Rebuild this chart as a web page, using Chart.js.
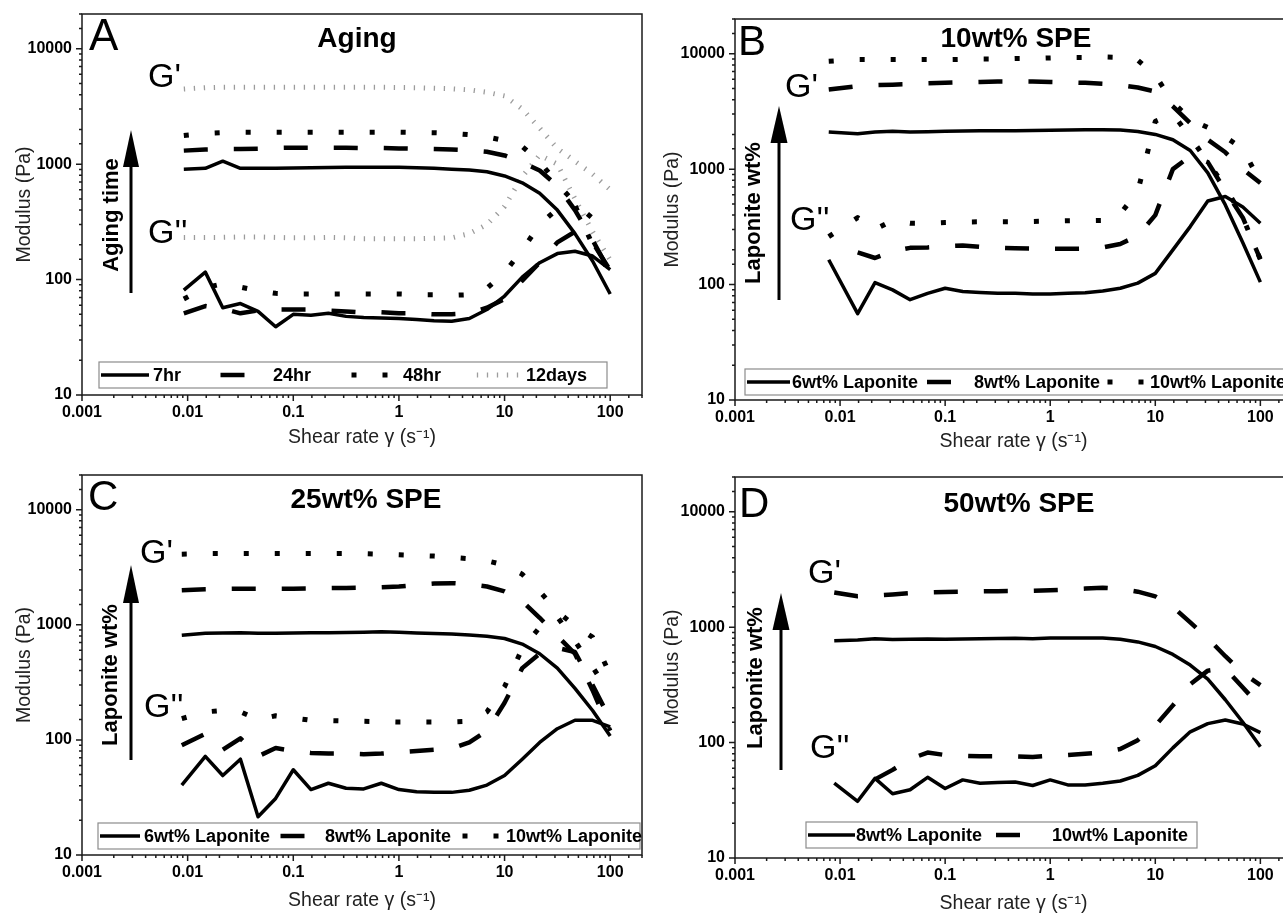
<!DOCTYPE html>
<html>
<head>
<meta charset="utf-8">
<script src="https://cdn.jsdelivr.net/npm/chart.js@4.4.1/dist/chart.umd.min.js"></script>
<style>
  html, body { margin: 0; padding: 0; background: #fff; overflow: hidden; width: 1283px; height: 915px; position: relative; }
  canvas { position: absolute; }
</style>
</head>
<body>
<canvas id="chartA" width="660" height="455" style="left:0;top:0"></canvas>
<canvas id="chartB" width="670" height="455" style="left:640px;top:0"></canvas>
<canvas id="chartC" width="660" height="460" style="left:0;top:455px"></canvas>
<canvas id="chartD" width="670" height="460" style="left:640px;top:455px"></canvas>
<script>
// tick labels (log axes)
const xTickLabels = ['0.001', '0.01', '0.1', '1', '10', '100'];
const yTickLabels = ['10', '100', '1000', '10000'];

// legend names
const agingNames = ['7hr', '24hr', '48hr', '12days'];
const lapNames = ['6wt% Laponite', '8wt% Laponite', '10wt% Laponite'];
const lapNamesD = ['8wt% Laponite', '10wt% Laponite'];

// ---- A: aging ----
const shearA = [0.0092, 0.0147, 0.0215, 0.0316, 0.0464, 0.0681, 0.1, 0.147, 0.215, 0.316, 0.464, 0.681, 1, 1.47, 2.15, 3.16, 4.64, 6.81, 10, 14.7, 21.5, 31.6, 46.4, 68.1, 100];
const hr7Storage = [905, 920, 1060, 920, 920, 920, 925, 930, 935, 940, 940, 940, 940, 930, 920, 905, 890, 860, 790, 690, 560, 400, 250, 145, 75];
const hr7Loss = [81, 116, 57, 62, 53, 39, 50, 49, 51, 48, 47, 46.5, 46, 45, 44, 43.5, 46, 55, 72, 105, 140, 168, 176, 160, 122];
const hr24Storage = [1310, 1340, 1350, 1350, 1360, 1380, 1390, 1390, 1390, 1390, 1380, 1380, 1370, 1360, 1350, 1340, 1320, 1280, 1190, 1040, 880, 650, 400, 220, 115];
const hr24Loss = [51, 59, 56, 51, 54, 55, 55, 55, 54, 53, 52, 52, 51, 51, 50, 50, 51, 57, 68, 98, 140, 210, 260, 210, 120];
const hr48Storage = [1770, 1850, 1880, 1890, 1890, 1890, 1890, 1890, 1890, 1890, 1890, 1890, 1890, 1880, 1870, 1850, 1800, 1720, 1600, 1420, 1050, 680, 460, 340, 280];
const hr48Loss = [68, 85, 92, 86, 80, 76, 75, 75, 75, 75, 75, 75, 75, 74, 74, 73, 74, 84, 115, 180, 300, 410, 440, 200, 115];
const day12Storage = [4480, 4600, 4640, 4650, 4650, 4650, 4650, 4650, 4650, 4650, 4650, 4640, 4620, 4600, 4550, 4500, 4400, 4200, 3900, 3000, 2050, 1370, 1060, 820, 600];
const day12Loss = [232, 232, 232, 234, 234, 232, 230, 230, 232, 230, 226, 226, 226, 226, 228, 230, 250, 300, 430, 780, 1200, 1000, 500, 260, 148];

// ---- B: 10wt% SPE ----
const shearB = [0.0078, 0.0147, 0.0215, 0.0316, 0.0464, 0.0681, 0.1, 0.147, 0.215, 0.316, 0.464, 0.681, 1, 1.47, 2.15, 3.16, 4.64, 6.81, 10, 14.7, 21.5, 31.6, 46.4, 68.1, 100];
const lap6StorageB = [2100, 2030, 2100, 2130, 2100, 2110, 2130, 2140, 2150, 2150, 2150, 2160, 2170, 2180, 2190, 2200, 2180, 2120, 2000, 1800, 1450, 930, 490, 230, 105];
const lap6LossB = [164, 56, 104, 90, 74, 84, 93, 87, 85.5, 84, 84, 83, 83, 84, 85, 88, 93, 103, 125, 200, 318, 530, 580, 470, 340];
const lap8StorageB = [4900, 5250, 5350, 5400, 5450, 5550, 5600, 5650, 5700, 5750, 5750, 5750, 5700, 5650, 5600, 5500, 5350, 5100, 4700, 3500, 2500, 1800, 1400, 1000, 760];
const lap8LossB = [null, 190, 170, 195, 208, 210, 215, 218, 212, 208, 206, 205, 204, 204, 205, 210, 225, 265, 400, 1000, 1300, 1150, 650, 380, 165];
const lap10StorageB = [8600, 8900, 8900, 8900, 8900, 8900, 8900, 8950, 9000, 9000, 9100, 9100, 9200, 9300, 9300, 9400, 9300, 8800, 6500, 3800, 2700, 2300, 1900, 1500, 770];
const lap10LossB = [260, 380, 300, 360, 340, 340, 345, 348, 350, 350, 350, 352, 355, 357, 358, 360, 410, 640, 2600, 3000, 1900, 1150, 700, 380, 165];

// ---- C: 25wt% SPE ----
const shearC = [0.0088, 0.0147, 0.0215, 0.0316, 0.0464, 0.0681, 0.1, 0.147, 0.215, 0.316, 0.464, 0.681, 1, 1.47, 2.15, 3.16, 4.64, 6.81, 10, 14.7, 21.5, 31.6, 46.4, 68.1, 100];
const lap6StorageC = [809, 843, 848, 852, 845, 845, 850, 852, 852, 855, 860, 870, 860, 850, 840, 830, 815, 795, 760, 680, 560, 420, 280, 180, 108];
const lap6LossC = [40.5, 72, 49, 68, 21.5, 31, 55, 37, 42, 38, 37.5, 42, 37, 35.5, 35, 35, 36.5, 40.5, 49, 68, 95, 125, 148, 148, 130];
const lap8StorageC = [1990, 2030, 2050, 2060, 2060, 2060, 2060, 2070, 2080, 2090, 2100, 2120, 2150, 2220, 2280, 2300, 2250, 2150, 1950, 1600, 1150, 800, 560, 270, 120];
const lap8LossC = [90, 113, 82, 103, 72, 85, 80, 77, 76, 76, 75, 76, 78, 80, 82, 84, 95, 120, 210, 420, 560, 630, 580, 300, 150];
const lap10StorageC = [4100, 4150, 4150, 4150, 4150, 4150, 4150, 4150, 4150, 4150, 4150, 4100, 4050, 4000, 3950, 3850, 3750, 3600, 3300, 2750, 1950, 1300, 980, 780, 370];
const lap10LossC = [153, 175, 180, 175, 150, 162, 155, 148, 147, 146, 145, 144, 143, 143, 143, 143, 145, 175, 290, 620, 950, 1170, 720, 430, 250];

// ---- D: 50wt% SPE ----
const shearD = [0.0088, 0.0147, 0.0215, 0.0316, 0.0464, 0.0681, 0.1, 0.147, 0.215, 0.316, 0.464, 0.681, 1, 1.47, 2.15, 3.16, 4.64, 6.81, 10, 14.7, 21.5, 31.6, 46.4, 68.1, 100];
const lap8StorageD = [762, 775, 795, 780, 785, 790, 785, 790, 795, 797, 800, 795, 805, 805, 805, 805, 785, 745, 680, 580, 470, 355, 235, 150, 92];
const lap8LossD = [44.5, 31, 49, 36, 39, 50, 40, 47.5, 44.5, 45, 45.5, 42.5, 47.5, 43, 43, 44.5, 46.5, 52, 63, 90, 124, 146, 157, 145, 122];
const lap10StorageD = [1995, 1850, 1880, 1920, 1970, 2000, 2020, 2030, 2040, 2050, 2060, 2070, 2090, 2120, 2160, 2200, 2150, 2030, 1850, 1500, 1100, 800, 560, 400, 315];
const lap10LossD = [null, null, 48, 58, 72, 82, 78, 77, 76, 76, 76, 75, 77, 78, 80, 82, 88, 105, 140, 210, 320, 420, 440, 300, 205];

Chart.defaults.font.family = '"Liberation Sans", Arial, sans-serif';
Chart.defaults.color = '#000';

const LINE = {
  solid:  { borderColor: '#000', borderWidth: 3.5, borderDash: [] },
  dashed: { borderColor: '#000', borderWidth: 4.5, borderDash: [24, 26] },
  dotted: { borderColor: '#000', borderWidth: 5, borderDash: [5, 26] },
  faint:  { borderColor: '#9c9c9c', borderWidth: 5, borderDash: [1.3, 8.7] }
};

function series(xs, ys, style) {
  return Object.assign({
    data: xs.map((x, i) => ({ x: x, y: ys[i] })),
    pointRadius: 0, tension: 0, fill: false,
    borderCapStyle: 'butt', borderJoinStyle: 'round'
  }, LINE[style]);
}

const fmt = v => String(+Number(v).toPrecision(3));
const isDecade = v => Math.abs(Math.log10(v) - Math.round(Math.log10(v))) < 1e-6;

function makeDecor(spec) {
  return {
    id: 'decor',
    afterDraw(chart) {
      const { ctx, chartArea: a, scales: { x, y } } = chart;
      ctx.save();
      ctx.strokeStyle = '#1a1a1a';
      ctx.lineWidth = 1.5;
      ctx.strokeRect(a.left, a.top, a.right - a.left, a.bottom - a.top);

      // tick marks, outward
      ctx.beginPath();
      x.ticks.forEach(t => {
        const p = x.getPixelForValue(t.value);
        if (p < a.left - 1 || p > a.right + 1) return;
        const len = isDecade(t.value) ? 6 : 3;
        ctx.moveTo(p, a.bottom); ctx.lineTo(p, a.bottom + len);
      });
      y.ticks.forEach(t => {
        const p = y.getPixelForValue(t.value);
        if (p < a.top - 1 || p > a.bottom + 1) return;
        const len = isDecade(t.value) ? 6 : 3;
        ctx.moveTo(a.left, p); ctx.lineTo(a.left - len, p);
      });
      ctx.stroke();

      // legend box
      const lg = spec.legend;
      ctx.fillStyle = '#fff';
      ctx.fillRect(lg.x1, lg.y1, lg.x2 - lg.x1, lg.y2 - lg.y1);
      ctx.strokeStyle = '#8c8c8c';
      ctx.lineWidth = 1.2;
      ctx.strokeRect(lg.x1, lg.y1, lg.x2 - lg.x1, lg.y2 - lg.y1);
      const cy = (lg.y1 + lg.y2) / 2;
      lg.items.forEach(it => {
        const st = LINE[it.style];
        const d = st.borderDash;
        ctx.strokeStyle = st.borderColor;
        ctx.lineWidth = st.borderWidth;
        ctx.lineCap = 'butt';
        ctx.setLineDash(d);
        if (d.length) {
          const p = d[0] + d[1], L = it.x2 - it.x1;
          const o = d[0] / 2 - L / 2 + (it.style === 'dotted' ? p / 2 : 0);
          ctx.lineDashOffset = ((o % p) + p) % p;
        } else {
          ctx.lineDashOffset = 0;
        }
        ctx.beginPath(); ctx.moveTo(it.x1, cy); ctx.lineTo(it.x2, cy); ctx.stroke();
        ctx.setLineDash([]);
        ctx.fillStyle = '#000';
        ctx.font = 'bold 18px "Liberation Sans", Arial, sans-serif';
        ctx.textAlign = 'left';
        ctx.textBaseline = 'middle';
        ctx.fillText(it.label, it.tx, cy + 1);
      });

      // text annotations
      ctx.fillStyle = '#000';
      spec.texts.forEach(t => {
        ctx.save();
        ctx.font = t.font + ' "Liberation Sans", Arial, sans-serif';
        ctx.textAlign = t.align || 'left';
        ctx.textBaseline = t.base || 'alphabetic';
        ctx.translate(t.x, t.y);
        if (t.rot) ctx.rotate(t.rot);
        ctx.fillText(t.t, 0, 0);
        ctx.restore();
      });

      // arrow
      const ar = spec.arrow;
      ctx.strokeStyle = '#000';
      ctx.lineWidth = 3;
      ctx.beginPath(); ctx.moveTo(ar.x, ar.bottom); ctx.lineTo(ar.x, ar.tip + ar.hl - 2); ctx.stroke();
      ctx.beginPath();
      ctx.moveTo(ar.x, ar.tip);
      ctx.lineTo(ar.x - ar.hw / 2, ar.tip + ar.hl);
      ctx.lineTo(ar.x + ar.hw / 2, ar.tip + ar.hl);
      ctx.closePath(); ctx.fill();
      ctx.restore();
    }
  };
}

function buildPanel(id, spec) {
  new Chart(document.getElementById(id), {
    type: 'line',
    data: { datasets: spec.datasets },
    options: {
      responsive: false,
      animation: false,
      events: [],
      layout: { padding: { left: 0, top: spec.top, right: spec.right, bottom: 0 } },
      plugins: { legend: { display: false }, tooltip: { enabled: false } },
      scales: {
        x: {
          type: 'logarithmic', min: 0.001, max: 200,
          grid: { display: false, drawTicks: false }, border: { display: false },
          ticks: {
            autoSkip: false, maxRotation: 0, minRotation: 0, padding: 8,
            font: { size: 16, weight: 'bold' },
            callback: v => xTickLabels.includes(fmt(v)) ? fmt(v) : ''
          },
          title: { display: true, text: 'Shear rate γ (s⁻¹)', font: { size: 19.5 }, color: '#222', padding: { top: 0, bottom: spec.xTitlePad } },
          afterFit: s => { s.height = spec.xAxisH; s.paddingLeft = 0; s.paddingRight = 0; }
        },
        y: {
          type: 'logarithmic', min: 10, max: 20000,
          grid: { display: false, drawTicks: false }, border: { display: false },
          ticks: {
            autoSkip: false, padding: 10,
            font: { size: 16, weight: 'bold' },
            callback: v => yTickLabels.includes(fmt(v)) ? fmt(v) : ''
          },
          title: { display: true, text: 'Modulus (Pa)', font: { size: 19.5 }, color: '#222', padding: { top: spec.yTitlePad, bottom: 0 } },
          afterFit: s => { s.width = spec.yAxisW; s.paddingTop = 0; s.paddingBottom = 0; }
        }
      }
    },
    plugins: [makeDecor(spec)]
  });
}

const ROT = -Math.PI / 2;

buildPanel('chartA', {
  top: 14, right: 18, yAxisW: 82, xAxisH: 60, xTitlePad: 6, yTitlePad: 13,
  datasets: [
    series(shearA, hr7Storage, 'solid'), series(shearA, hr7Loss, 'solid'),
    series(shearA, hr24Storage, 'dashed'), series(shearA, hr24Loss, 'dashed'),
    series(shearA, hr48Storage, 'dotted'), series(shearA, hr48Loss, 'dotted'),
    series(shearA, day12Storage, 'faint'), series(shearA, day12Loss, 'faint')
  ],
  legend: { x1: 99, y1: 362, x2: 607, y2: 388, items: [
    { label: agingNames[0], style: 'solid', x1: 101, x2: 149, tx: 153 },
    { label: agingNames[1], style: 'dashed', x1: 209, x2: 256, tx: 273 },
    { label: agingNames[2], style: 'dotted', x1: 347, x2: 392, tx: 403 },
    { label: agingNames[3], style: 'faint', x1: 476, x2: 519, tx: 526 }
  ] },
  texts: [
    { t: 'A', x: 89, y: 50, font: '44px' },
    { t: 'Aging', x: 357, y: 47, font: 'bold 28px', align: 'center' },
    { t: "G'", x: 148, y: 87, font: '34px' },
    { t: "G''", x: 148, y: 243, font: '34px' },
    { t: 'Aging time', x: 112, y: 215, font: 'bold 22px', align: 'center', base: 'middle', rot: ROT }
  ],
  arrow: { x: 131, bottom: 293, tip: 130, hl: 37, hw: 16 }
});

buildPanel('chartB', {
  top: 19, right: 18, yAxisW: 95, xAxisH: 55, xTitlePad: 2, yTitlePad: 21,
  datasets: [
    series(shearB, lap6StorageB, 'solid'), series(shearB, lap6LossB, 'solid'),
    series(shearB, lap8StorageB, 'dashed'), series(shearB, lap8LossB, 'dashed'),
    series(shearB, lap10StorageB, 'dotted'), series(shearB, lap10LossB, 'dotted')
  ],
  legend: { x1: 105, y1: 369, x2: 700, y2: 395, items: [
    { label: lapNames[0], style: 'solid', x1: 107, x2: 150, tx: 152 },
    { label: lapNames[1], style: 'dashed', x1: 276, x2: 322, tx: 334 },
    { label: lapNames[2], style: 'dotted', x1: 463, x2: 508, tx: 510 }
  ] },
  texts: [
    { t: 'B', x: 98, y: 55, font: '42px' },
    { t: '10wt% SPE', x: 376, y: 47, font: 'bold 28px', align: 'center' },
    { t: "G'", x: 145, y: 97, font: '34px' },
    { t: "G''", x: 150, y: 230, font: '34px' },
    { t: 'Laponite wt%', x: 114, y: 213, font: 'bold 22px', align: 'center', base: 'middle', rot: ROT }
  ],
  arrow: { x: 139, bottom: 300, tip: 106, hl: 37, hw: 17 }
});

buildPanel('chartC', {
  top: 20, right: 18, yAxisW: 82, xAxisH: 60, xTitlePad: 3, yTitlePad: 13,
  datasets: [
    series(shearC, lap6StorageC, 'solid'), series(shearC, lap6LossC, 'solid'),
    series(shearC, lap8StorageC, 'dashed'), series(shearC, lap8LossC, 'dashed'),
    series(shearC, lap10StorageC, 'dotted'), series(shearC, lap10LossC, 'dotted')
  ],
  legend: { x1: 98, y1: 368, x2: 640, y2: 394, items: [
    { label: lapNames[0], style: 'solid', x1: 100, x2: 140, tx: 144 },
    { label: lapNames[1], style: 'dashed', x1: 270, x2: 315, tx: 325 },
    { label: lapNames[2], style: 'dotted', x1: 458, x2: 503, tx: 506 }
  ] },
  texts: [
    { t: 'C', x: 88, y: 55, font: '42px' },
    { t: '25wt% SPE', x: 366, y: 53, font: 'bold 28px', align: 'center' },
    { t: "G'", x: 140, y: 108, font: '34px' },
    { t: "G''", x: 144, y: 262, font: '34px' },
    { t: 'Laponite wt%', x: 111, y: 220, font: 'bold 22px', align: 'center', base: 'middle', rot: ROT }
  ],
  arrow: { x: 131, bottom: 305, tip: 110, hl: 38, hw: 16 }
});

buildPanel('chartD', {
  top: 22, right: 18, yAxisW: 95, xAxisH: 57, xTitlePad: 0, yTitlePad: 21,
  datasets: [
    series(shearD, lap8StorageD, 'solid'), series(shearD, lap8LossD, 'solid'),
    series(shearD, lap10StorageD, 'dashed'), series(shearD, lap10LossD, 'dashed')
  ],
  legend: { x1: 166, y1: 367, x2: 557, y2: 393, items: [
    { label: lapNamesD[0], style: 'solid', x1: 168, x2: 215, tx: 216 },
    { label: lapNamesD[1], style: 'dashed', x1: 345, x2: 391, tx: 412 }
  ] },
  texts: [
    { t: 'D', x: 99, y: 62, font: '42px' },
    { t: '50wt% SPE', x: 379, y: 57, font: 'bold 28px', align: 'center' },
    { t: "G'", x: 168, y: 128, font: '34px' },
    { t: "G''", x: 170, y: 303, font: '34px' },
    { t: 'Laponite wt%', x: 116, y: 223, font: 'bold 22px', align: 'center', base: 'middle', rot: ROT }
  ],
  arrow: { x: 141, bottom: 315, tip: 138, hl: 37, hw: 17 }
});
</script>
</body>
</html>
